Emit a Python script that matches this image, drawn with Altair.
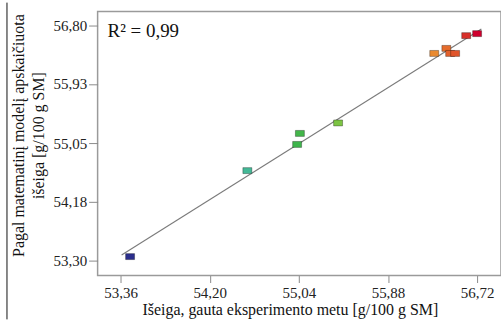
import altair as alt
import pandas as pd

# Data
x_exp = [53.45, 54.555, 55.024, 55.05, 55.41, 56.316, 56.43, 56.466, 56.513, 56.617, 56.72]
y_mod = [53.36, 54.64, 55.03, 55.194, 55.35, 56.385, 56.46, 56.385, 56.385, 56.65, 56.68]

x_ticks = [53.36, 54.20, 55.04, 55.88, 56.72]
y_ticks = [53.30, 54.18, 55.05, 55.93, 56.80]

color_stops = [53.45, 54.555, 55.03, 55.41, 56.32, 56.47, 56.62]
color_range = ["#2b2e8c", "#44b896", "#3fb54b", "#7cc443", "#e98a30", "#e3602c", "#d8302b"]

df = pd.DataFrame({"x": x_exp, "y": y_mod})

FONT = "Liberation Serif"
xs = alt.Scale(domain=[53.144, 56.945], nice=False, zero=False)
ys = alt.Scale(domain=[53.078, 57.008], nice=False, zero=False)

base = alt.Chart(df)

line = base.transform_regression("x", "y", extent=[53.37, 56.76]).mark_line(
    color="#7a7a7a", strokeWidth=1.1
).encode(
    x=alt.X("x:Q", scale=xs),
    y=alt.Y("y:Q", scale=ys),
)

points = base.mark_point(
    shape="M-1.5,-1L1.5,-1L1.5,1L-1.5,1Z",
    size=36,
    filled=True,
    opacity=1,
    stroke="rgba(0,0,0,0.45)",
    strokeWidth=0.7,
).encode(
    x=alt.X(
        "x:Q",
        scale=xs,
        axis=alt.Axis(
            values=x_ticks,
            labelExpr="replace(format(datum.value, '.2f'), '.', ',')",
            title="Išeiga, gauta eksperimento metu [g/100 g SM]",
            titleX=193,
            titleY=39,
            titleBaseline="alphabetic",
            titleAlign="center",
            tickSize=7,
            labelPadding=3,
        ),
    ),
    y=alt.Y(
        "y:Q",
        scale=ys,
        axis=alt.Axis(
            values=y_ticks,
            labelExpr="replace(format(datum.value, '.2f'), '.', ',')",
            title=["Pagal matematinį modelį apskaičiuota", "išeiga [g/100 g SM]"],
            titleX=-79,
            titleY=124,
            titleBaseline="middle",
            titleAlign="center",
            titleAngle=270,
            titleLineHeight=20,
            tickSize=9,
            labelPadding=2,
        ),
    ),
    color=alt.Color("x:Q", scale=alt.Scale(domain=color_stops, range=color_range), legend=None),
)

r2 = alt.Chart(pd.DataFrame({"t": ["R² = 0,99"]})).mark_text(
    align="left", baseline="alphabetic", font=FONT, fontSize=19, color="#111"
).encode(text="t:N", x=alt.value(10), y=alt.value(26))

border = alt.Chart(pd.DataFrame({"a": [0]})).mark_rule(color="#111", strokeWidth=1).encode(
    x=alt.value(-91), y=alt.value(-9), y2=alt.value(309)
)

chart = alt.layer(line, points, r2, border).properties(
    width=405,
    height=265,
    padding={"left": 98, "top": 11, "right": 0, "bottom": 44},
    autosize=alt.AutoSizeParams(type="none"),
    background="white",
).configure_view(
    stroke="#9a9a9a", strokeWidth=1.5
).configure_axis(
    grid=False,
    domain=False,
    tickColor="#8a8a8a",
    tickWidth=1,
    labelFont=FONT,
    labelFontSize=15,
    labelColor="#222",
    titleFont=FONT,
    titleFontSize=16,
    titleFontWeight="normal",
    titleColor="#111",
)

chart.save("out.html", embed_options={"renderer": "svg", "actions": False})
